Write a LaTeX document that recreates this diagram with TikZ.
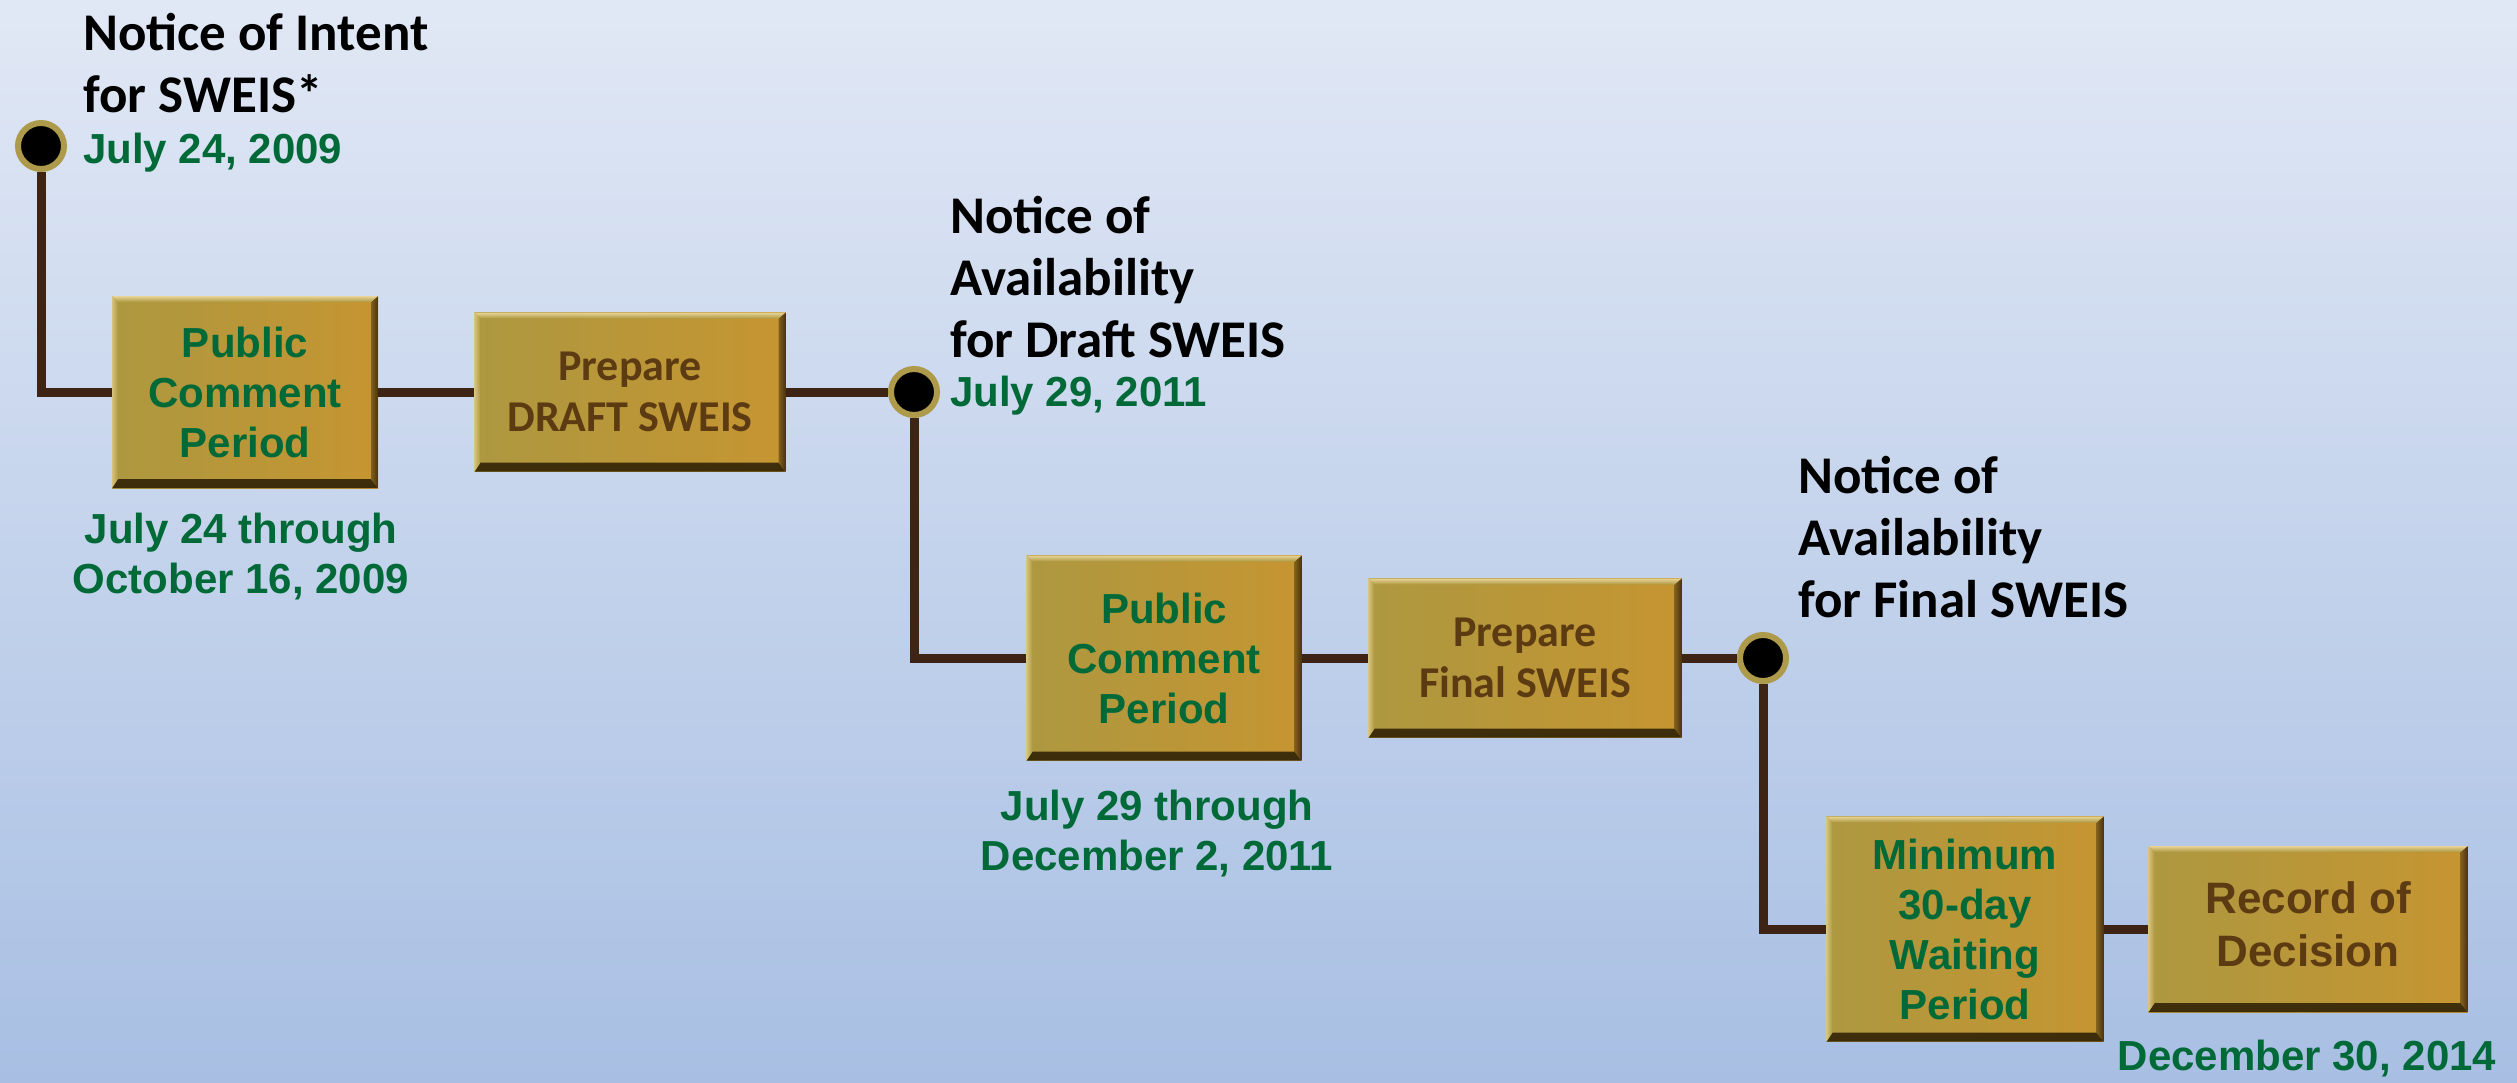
\documentclass[tikz,border=0pt]{standalone}
\usepackage{fontspec}
\newfontfamily\calib{Carlito}
\newfontfamily\arialf{Liberation Sans}
\definecolor{bgtop}{RGB}{225,232,245}
\definecolor{bgbot}{RGB}{168,191,227}
\definecolor{tgreen}{RGB}{0,105,56}
\definecolor{tbrown}{RGB}{92,59,18}
\definecolor{linec}{RGB}{61,36,21}
\definecolor{ring}{RGB}{173,154,75}
\definecolor{boxL}{RGB}{173,152,64}
\definecolor{boxR}{RGB}{198,149,49}
\definecolor{bevtopc}{RGB}{130,96,34}
\definecolor{bevbotc}{RGB}{60,44,10}
\definecolor{bevrl}{RGB}{130,95,30}
\definecolor{bevrr}{RGB}{72,52,14}
\definecolor{bevlight}{RGB}{232,212,152}
\tikzset{
  gbox/.style={rectangle, inner sep=0pt, left color=boxL, right color=boxR, align=center,
    path picture={
      \path[shade, top color=bevtopc, bottom color=bevbotc]
        (path picture bounding box.south west) -- (path picture bounding box.south east)
        -- ([xshift=-7pt,yshift=9pt]path picture bounding box.south east)
        -- ([xshift=6pt,yshift=9pt]path picture bounding box.south west) -- cycle;
      \path[shade, left color=bevrl, right color=bevrr]
        (path picture bounding box.south east) -- (path picture bounding box.north east)
        -- ([xshift=-7pt,yshift=-6pt]path picture bounding box.north east)
        -- ([xshift=-7pt,yshift=9pt]path picture bounding box.south east) -- cycle;
      \path[shade, top color=bevlight, bottom color=boxL]
        (path picture bounding box.north west) -- (path picture bounding box.north east)
        -- ([xshift=-7pt,yshift=-6pt]path picture bounding box.north east)
        -- ([xshift=6pt,yshift=-6pt]path picture bounding box.north west) -- cycle;
      \path[shade, left color=bevlight!70!boxL, right color=boxL]
        (path picture bounding box.north west) -- ([xshift=6pt,yshift=-6pt]path picture bounding box.north west)
        -- ([xshift=6pt,yshift=9pt]path picture bounding box.south west)
        -- (path picture bounding box.south west) -- cycle;
    }},
  gtext/.style={font=\arialf\bfseries\fontsize{42}{50}\selectfont, text=tgreen},
  btext/.style={font=\calib\bfseries\fontsize{44}{51}\selectfont, text=tbrown},
  rtext/.style={font=\arialf\bfseries\fontsize{44}{53}\selectfont, text=tbrown},
  notice/.style={font=\calib\bfseries\fontsize{53}{62}\selectfont, align=left, anchor=base west, inner sep=0pt},
  datelbl/.style={font=\arialf\bfseries\fontsize{42}{50}\selectfont, text=tgreen, inner sep=0pt},
  milestone/.style={circle, fill=black, draw=ring, line width=6pt, minimum size=46pt, inner sep=0pt},
  conn/.style={draw=linec, line width=9pt},
}
\begin{document}
\begin{tikzpicture}[x=1pt,y=-1pt]
\shade[top color=bgtop, bottom color=bgbot] (0,0) rectangle (2517,1082);
\useasboundingbox (0,0) rectangle (2517,1082);

% milestones
\node[milestone] (c1) at (41,146) {};
\node[milestone] (c2) at (914,392) {};
\node[milestone] (c3) at (1763,658) {};

% boxes
\node[gbox, gtext, minimum width=266pt, minimum height=192pt] (b1) at (245,392) {Public\\Comment\\Period};
\node[gbox, btext, minimum width=311pt, minimum height=159pt] (b2) at (630,392) {Prepare\\DRAFT SWEIS};
\node[gbox, gtext, minimum width=275pt, minimum height=205pt] (b3) at (1164,658) {Public\\Comment\\Period};
\node[gbox, btext, minimum width=313pt, minimum height=159pt] (b4) at (1525,658) {Prepare\\Final SWEIS};
\node[gbox, gtext, minimum width=277pt, minimum height=225pt] (b5) at (1965,929) {Minimum\\30-day\\Waiting\\Period};
\node[gbox, rtext, minimum width=319pt, minimum height=166pt] (b6) at (2308,929) {\raisebox{12pt}{\begin{tabular}{@{}c@{}}Record of\\Decision\end{tabular}}};

% connectors
\draw[conn] (c1.south) |- (b1.west);
\draw[conn] (b1.east) -- (b2.west);
\draw[conn] (b2.east) -- (c2.west);
\draw[conn] (c2.south) |- (b3.west);
\draw[conn] (b3.east) -- (b4.west);
\draw[conn] (b4.east) -- (c3.west);
\draw[conn] (c3.south) |- (b5.west);
\draw[conn] (b5.east) -- (b6.west);

% notices (anchor at baseline of last line)
\node[notice] (n1) at (83,112) {Notice of Intent\\for SWEIS*};
\node[datelbl, anchor=base west] (d1) at (83,163) {July 24, 2009};
\node[notice] (n2) at (950,357) {Notice of\\Availability\\for Draft SWEIS};
\node[datelbl, anchor=base west] (d2) at (950,406) {July 29, 2011};
\node[notice] (n3) at (1798,617) {Notice of\\Availability\\for Final SWEIS};

% period dates
\node[datelbl, align=center, anchor=base] (p1) at (241,593) {July 24 through\\October 16, 2009};
\node[datelbl, align=center, anchor=base] (p2) at (1157,870) {July 29 through\\December 2, 2011};
\node[datelbl, anchor=base] (p3) at (2307,1070) {December 30, 2014};
\end{tikzpicture}
\end{document}
